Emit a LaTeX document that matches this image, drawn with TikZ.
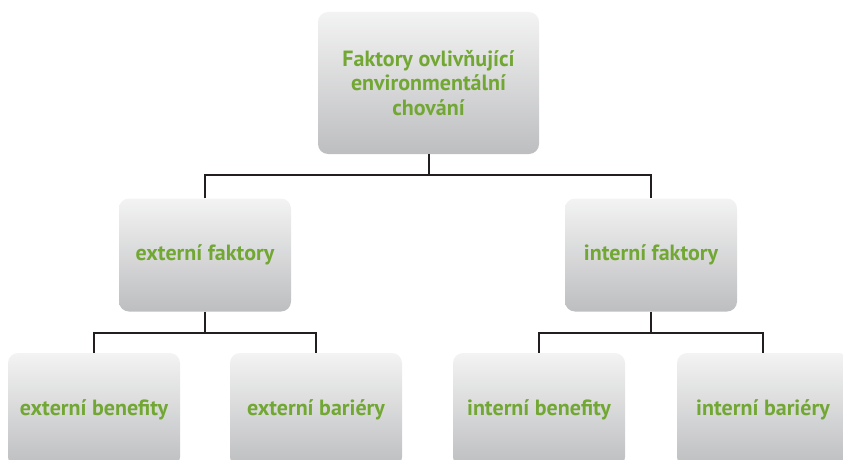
\documentclass[tikz,border=0pt]{standalone}
\usepackage{fontspec}
\setmainfont{PT Sans}
\usetikzlibrary{positioning}
\definecolor{leafgreen}{HTML}{72A734}
\definecolor{boxtop}{HTML}{F3F3F3}
\definecolor{boxbottom}{HTML}{BDBEC0}
\definecolor{linkgray}{HTML}{231F20}
\tikzset{
    factor/.style={rounded corners=10pt, top color=boxtop, bottom color=boxbottom, text=leafgreen,
        font=\bfseries\fontsize{22}{24.5}\selectfont, align=center, inner sep=0pt,
        minimum width=172pt, minimum height=113pt},
    link/.style={draw=linkgray, line width=2pt}
}
\begin{document}
\begin{tikzpicture}[x=1pt, y=-1pt]
\useasboundingbox (0,0) rectangle (843,460);
\clip (0,0) rectangle (843,460);
% boxes
\node[factor, minimum width=221pt, minimum height=142pt] (root) at (428.5,83) {Faktory ovlivňující\\environmentální\\chování};
\node[factor] (ext) at (205,255) {externí faktory};
\node[factor] (int) at (651,255) {interní faktory};
\node[factor, minimum height=114pt] (extben) at (94,410) {externí benefity};
\node[factor, minimum height=114pt] (extbar) at (316,410) {externí bariéry};
\node[factor, minimum height=114pt] (intben) at (539,410) {interní benefity};
\node[factor, minimum height=114pt] (intbar) at (763,410) {interní bariéry};
% links
\draw[link] (root.south) -- ++(0,21) coordinate (rootbar);
\draw[link] (ext.north) |- (rootbar) -| (int.north);
\draw[link] (ext.south) -- ++(0,21) coordinate (extbar-c);
\draw[link] (extben.north) |- (extbar-c) -| (extbar.north);
\draw[link] (int.south) -- ++(0,21) coordinate (intbar-c);
\draw[link] (intben.north) |- (intbar-c) -| (intbar.north);
\end{tikzpicture}
\end{document}
